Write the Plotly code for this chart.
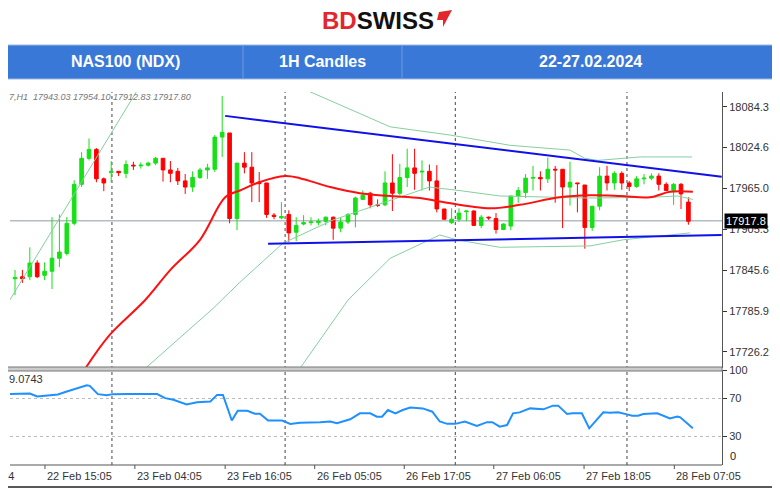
import plotly.graph_objects as go

# ---------------- data ----------------
opens = [17833,17836,17836,17856,17838,17844,17863,17870,17914,17971,18009,18022,17979,17988,17990,17987,17999,17998,17999,18002,
         18009,17992,17990,17976,17967,17981,17992,17993,18040,18046,17921,18002,17996,17974,17973,17926,17922,17927,17901,17913,
         17915,17915,17917,17923,17907,17916,17927,17949,17958,17941,17941,17973,17958,17981,17995,17989,17990,17976,17935,17915,
         17920,17931,17932,17911,17923,17921,17905,17910,17954,17959,17980,17981,17979,17993,17993,17967,17973,17970,17908,17939,
         17983,17973,17987,17973,17968,17979,17980,17983,17971,17962,17971,17945]
highs = [17846,17846,17879,17860,17857,17923,17927,17923,17977,18018,18038,18024,17981,18005,17990,18006,18004,18003,18004,18011,
         18009,18005,17995,17986,17990,17995,18001,18043,18100,18046,18002,18018,18018,17989,17973,17929,17945,17933,17923,17926,
         17923,17921,17924,17924,17923,17929,17953,17962,17960,17949,17990,18015,18001,18023,18023,18006,18000,17999,17935,17936,
         17936,17932,17933,17926,17924,17929,17914,17954,17967,17986,17998,17990,18010,17998,17993,18004,17973,17970,17939,17996,
         17998,17990,17990,17976,17983,17986,17987,17987,17974,17973,17973,17952]
lows = [17809,17827,17831,17834,17831,17818,17850,17867,17911,17967,18006,17974,17961,17974,17983,17980,17992,17994,17997,17999,
        17975,17974,17970,17957,17960,17979,17979,17989,18011,17914,17904,17987,17945,17945,17922,17920,17920,17887,17888,17911,
        17911,17911,17911,17890,17901,17913,17908,17948,17936,17938,17939,17932,17955,17967,17963,17962,17962,17930,17919,17913,
        17916,17917,17910,17907,17919,17899,17904,17904,17944,17951,17962,17962,17973,17944,17907,17940,17930,17877,17903,17933,
        17962,17963,17963,17961,17966,17971,17977,17962,17962,17941,17935,17912]
closes = [17835,17833,17856,17836,17844,17863,17872,17914,17971,18009,18022,17979,17973,17990,17988,18000,17998,17999,18002,18009,
          17992,17987,17976,17967,17981,17992,17995,18040,18047,17921,18002,17996,17973,17972,17927,17924,17924,17900,17911,17915,
          17916,17917,17923,17907,17916,17927,17951,17955,17941,17940,17973,17958,17981,17995,17987,17990,17976,17935,17920,17920,
          17929,17932,17911,17923,17922,17905,17913,17954,17962,17980,17981,17979,17993,17992,17967,17974,17972,17908,17939,17983,
          17973,17987,17973,17968,17979,17980,17983,17971,17962,17971,17957,17917]

ma_idx = [9.5,12.8,17.6,21,25,28.4,30.4,33,36.5,38.5,42.6,46.6,50.7,54.7,57.4,64.2,68.2,73.6,77.7,81.8,85.8,88.5,91.6]
ma_val = [17702,17751,17802,17846,17890,17952,17962,17974,17983,17980,17967,17958,17954,17951,17946,17936,17941,17952,17955,17954,17952,17960,17960]

bb_up_idx = [-0.7,8,16.5,19,None,37,39.5,50.7,58.8,66.9,75,77,78.8,84.5,91.5]
bb_up_val = [17802,17957,18108,18150,None,18150,18108,18055,18043,18028,18021,18009,18006,18011,18011]
bb_mid_idx = [17.6,26.8,30.4,32.2,36.2,43,50.7,56,60,65.5,77.3,85.8,89.5,91.6]
bb_mid_val = [17702,17790,17828,17846,17885,17919,17948,17967,17962,17954,17951,17952,17954,17949]
bb_lo_idx = [38.5,45,50.7,57.4,59.7,65.5,77.7,82.2,91.2]
bb_lo_val = [17702,17802,17863,17897,17890,17879,17881,17890,17900]

trend_up_idx = [28.4,95.5]
trend_up_val = [18071,17982]
trend_lo_idx = [34.2,95.5]
trend_lo_val = [17884,17897]

rsi_idx = [-0.7,2.0,3.0,4.3,5.8,7.0,9.7,10.1,11.2,12.4,13.2,15.3,19.2,20.3,21.4,23.2,24.6,26.4,27.3,28.1,29.3,30.1,31.4,32.4,33.1,
           34.2,36.1,37.2,38.5,41.2,42.6,43.5,45.3,46.6,48.0,48.9,49.6,50.4,51.4,52.4,53.4,55.1,56.4,57.4,58.4,59.5,60.8,62.4,63.8,
           64.5,65.5,66.5,67.3,68.2,69.6,71.4,72.7,73.4,74.6,75.3,76.6,77.6,79.5,80.4,81.5,82.7,83.4,84.2,84.9,86.8,87.2,88.5,89.5,89.9,91.6]
rsi_val = [74.7,75.3,72.1,72.8,74.2,77.4,84,83.3,74.6,73.5,74.6,74.7,74.7,70.4,68.6,63.7,66.1,66.8,73.8,73.8,46.8,57,57,53.9,53.9,
           46.8,46.8,43.3,44.5,45.1,45.8,44,48.1,54.4,54.4,50.9,50.9,57.9,54.4,57.9,60.4,59.6,56.1,45.8,43.3,43.3,45.8,41.2,45.1,
           45.1,40.4,42.1,54.4,55.4,59.6,58.6,62.5,62.5,53.7,54.4,54.4,38.6,55.4,55.1,55.4,53.3,51.9,51.9,53.7,54.4,53.3,49.1,50.9,50.2,38.6]

price_ticks = [18084.3,18024.6,17965.0,17905.3,17845.6,17785.9,17726.2]
price_tick_text = ["18084.3","18024.6","17965.0","17905.3","17845.6","17785.9","17726.2"]
rsi_ticks = [30,70,100]
rsi_zero_label = "0"
time_tick_idx = [4.05,16.2,28.4,40.5,52.6,64.7,76.9,89.1]
time_tick_text = ["22 Feb 15:05","23 Feb 04:05","23 Feb 16:05","26 Feb 05:05","26 Feb 17:05","27 Feb 06:05","27 Feb 18:05","28 Feb 07:05"]
cut_label = "2024"
grid_idx = [13.1,36.5,59.5,82.7]
last_price = 17917.8
header_cells = ["NAS100 (NDX)","1H Candles","22-27.02.2024"]

# ---------------- figure ----------------
OFF = 8  # page body margin
W, H = 780, 492
L, R, T, B = 10 - OFF, W - (722 - OFF), 92 - OFF, H - (465 - OFF)
PH = H - T - B
PW = W - L - R
def py(ypix):  # page pixel -> paper y
    return (H - B - (ypix - OFF)) / PH
def px(xpix):
    return (xpix - OFF - L) / PW

fig = go.Figure()
fig.add_trace(go.Candlestick(x=list(range(len(opens))), open=opens, high=highs, low=lows, close=closes,
                             increasing=dict(line=dict(color="#16E016", width=1), fillcolor="#16E016"),
                             decreasing=dict(line=dict(color="#FF0000", width=1), fillcolor="#FF0000"),
                             whiskerwidth=0, hoverinfo="skip", yaxis="y"))
band_style = dict(color="#86CFA0", width=1)
fig.add_trace(go.Scatter(x=bb_up_idx, y=bb_up_val, mode="lines", line=band_style, connectgaps=False))
fig.add_trace(go.Scatter(x=bb_mid_idx, y=bb_mid_val, mode="lines", line=band_style))
fig.add_trace(go.Scatter(x=bb_lo_idx, y=bb_lo_val, mode="lines", line=band_style))
fig.add_trace(go.Scatter(x=ma_idx, y=ma_val, mode="lines", line=dict(color="#FF1010", width=2, shape="spline")))
fig.add_trace(go.Scatter(x=trend_up_idx, y=trend_up_val, mode="lines", line=dict(color="#1010E8", width=2)))
fig.add_trace(go.Scatter(x=trend_lo_idx, y=trend_lo_val, mode="lines", line=dict(color="#1010E8", width=2)))
fig.add_trace(go.Scatter(x=rsi_idx, y=rsi_val, mode="lines", line=dict(color="#1E90FF", width=2), yaxis="y2"))

xr = [(10 - 15) / 7.4, (722 - 15) / 7.4]
fig.update_layout(
    width=W, height=H, margin=dict(l=L, r=R, t=T, b=B),
    paper_bgcolor="white", plot_bgcolor="white", showlegend=False,
    font=dict(family="Liberation Sans, Arial, sans-serif", size=10, color="#333"),
    xaxis=dict(range=xr, showgrid=False, zeroline=False, showticklabels=False, rangeslider=dict(visible=False),
               anchor="y2", showline=False),
    yaxis=dict(domain=[py(368), 1], range=[18240.3 - 1.461 * 368, 18240.3 - 1.461 * 92], side="right",
               tickvals=price_ticks, ticktext=price_tick_text, ticks="outside", ticklen=4, tickcolor="#333",
               showgrid=False, zeroline=False, showline=True, linecolor="#555", linewidth=1,
               tickfont=dict(size=11, color="#333")),
    yaxis2=dict(domain=[0, py(370)], range=[0, 100], side="right", tickvals=rsi_ticks, ticks="outside",
                ticklen=4, tickcolor="#333", showgrid=False, zeroline=False, showline=True, linecolor="#555",
                linewidth=1, tickfont=dict(size=11, color="#333"), anchor="x"),
)

shapes = []
shapes.append(dict(type="line", xref="paper", yref="y", x0=0, x1=1, y0=last_price, y1=last_price,
                   line=dict(color="#B4BCC4", width=1.5), layer="below"))
for lv in [30, 70]:
    shapes.append(dict(type="line", xref="paper", yref="y2", x0=0, x1=1, y0=lv, y1=lv,
                       line=dict(color="#BBBBBB", width=1, dash="dot"), layer="below"))
for gi in grid_idx:
    shapes.append(dict(type="line", xref="x", yref="paper", x0=gi, x1=gi, y0=0, y1=1,
                       line=dict(color="#444", width=1, dash="dot"), layer="below"))
shapes.append(dict(type="rect", xref="paper", yref="paper", x0=px(3), x1=1, y0=py(371), y1=py(367),
                   line=dict(color="#777", width=1), fillcolor="#CCCCCC"))
shapes.append(dict(type="line", xref="paper", yref="paper", x0=0, x1=1, y0=0, y1=0, line=dict(color="#555", width=1)))
for ti in time_tick_idx:
    shapes.append(dict(type="line", xref="x", yref="paper", x0=ti, x1=ti, y0=0, y1=py(469), line=dict(color="#555", width=1)))
shapes.append(dict(type="line", xref="paper", yref="paper", x0=px(3), x1=px(3), y0=py(485), y1=py(92), line=dict(color="#333", width=1.5, dash="dash")))
shapes.append(dict(type="line", xref="paper", yref="paper", x0=px(3), x1=px(779), y0=py(487), y1=py(487), line=dict(color="#222", width=1.5)))
shapes.append(dict(type="line", xref="paper", yref="paper", x0=px(778), x1=px(778), y0=py(487), y1=py(45), line=dict(color="#111", width=2)))
shapes.append(dict(type="rect", xref="paper", yref="paper", x0=px(3), x1=px(782), y0=py(79), y1=py(45),
                   fillcolor="#3A78D8", line=dict(color="#9DB8E0", width=1)))
for xd in [243, 402]:
    shapes.append(dict(type="line", xref="paper", yref="paper", x0=px(xd), x1=px(xd), y0=py(79), y1=py(45),
                       line=dict(color="#6E9BE0", width=1)))
shapes.append(dict(type="path", xref="paper", yref="paper",
                   path=f"M {px(439)} {py(12)} L {px(452)} {py(10)} L {px(443)} {py(27)} L {px(443)} {py(20)} L {px(437)} {py(20)} Z",
                   fillcolor="#E3262B", line=dict(width=0)))
fig.update_layout(shapes=shapes)

ann = []
for cx, txt in zip([125, 322, 590], header_cells):
    ann.append(dict(x=px(cx), y=py(62), xref="paper", yref="paper", text=f"<b>{txt}</b>", showarrow=False,
                    xanchor="center", yanchor="middle",
                    font=dict(family="Liberation Sans, Arial", size=16, color="white")))
ann.append(dict(x=px(378), y=py(20), xref="paper", yref="paper", showarrow=False, xanchor="center", yanchor="middle",
                text="<b><span style='color:#E3262B'>BD</span>SWISS</b>",
                font=dict(family="Liberation Sans, Arial", size=24, color="#111")))
for ti, tt in zip(time_tick_idx, time_tick_text):
    ann.append(dict(x=ti, y=py(476), xref="x", yref="paper", text=tt, showarrow=False, xanchor="left",
                    yanchor="middle", font=dict(size=11, color="#333")))
ann.append(dict(x=px(16), y=py(476), xref="paper", yref="paper", text=cut_label, showarrow=False, xanchor="right",
                yanchor="middle", font=dict(size=11, color="#333")))
ann.append(dict(x=px(728), y=py(456), yref="paper", xref="paper", text=rsi_zero_label, showarrow=False, xanchor="left",
                yanchor="middle", font=dict(size=11, color="#222"), bgcolor="white"))
ann.append(dict(x=px(7), y=py(97), xref="paper", yref="paper", text="<i>7,H1  17943.03 17954.10 17912.83 17917.80</i>",
                showarrow=False, xanchor="left", yanchor="middle", font=dict(size=9, color="#777")))
ann.append(dict(x=px(7), y=py(379), xref="paper", yref="paper", text="9.0743",
                showarrow=False, xanchor="left", yanchor="middle", font=dict(size=11, color="#333")))
ann.append(dict(x=px(724), y=last_price, xref="paper", yref="y", text="17917.8", showarrow=False, xanchor="left",
                yanchor="middle", bgcolor="black", font=dict(size=11, color="white"), borderpad=1))
fig.update_layout(annotations=ann)

fig.write_html("out.html")
